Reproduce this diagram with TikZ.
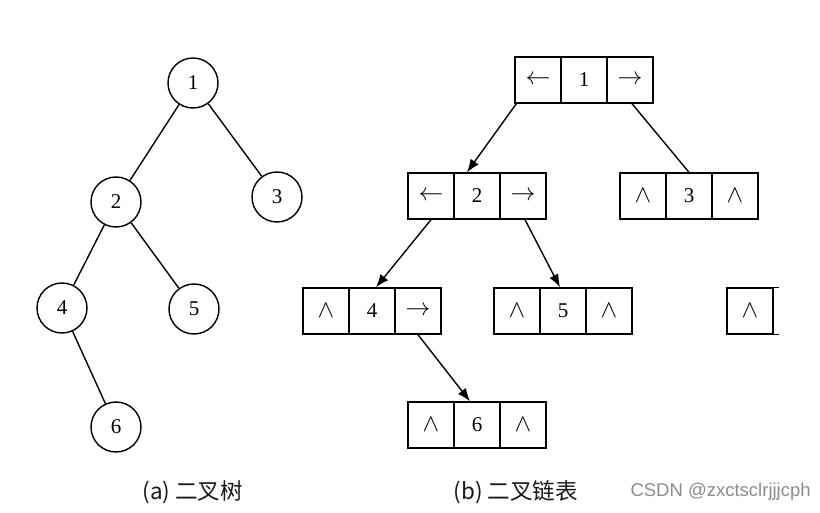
\documentclass[tikz,border=0pt]{standalone}
\usepackage{fontspec}
\setmainfont{Liberation Serif}
\newfontfamily\cjk{Noto Sans CJK SC}
\newfontfamily\wmfont{Liberation Sans}
\usetikzlibrary{arrows.meta,calc}
\newcommand{\nul}{{\fontsize{26}{26}\selectfont$\wedge$}}
\newcommand{\lar}{{\fontsize{24}{24}\selectfont$\leftarrow$}}
\newcommand{\rar}{{\fontsize{24}{24}\selectfont$\rightarrow$}}
\begin{document}
\begin{tikzpicture}[x=1pt,y=-1pt,
  treenode/.style={circle,draw,line width=1.4pt,minimum size=50pt,inner sep=0pt,font=\fontsize{21}{21}\selectfont},
  edge/.style={line width=1.4pt},
  cell/.style={rectangle,draw,line width=1.4pt,minimum width=46pt,minimum height=46pt,inner sep=0pt,font=\fontsize{21}{21}\selectfont},
  link/.style={line width=1.4pt,-{Latex[length=13pt,width=10pt]}},
  captext/.style={font=\cjk\fontsize{22.5}{22.5}\selectfont,text=black!90},
  wm/.style={font=\wmfont\fontsize{18.5}{18.5}\selectfont,text=black!45}]
\fill[white] (0,0) rectangle (820,513);
\useasboundingbox (0,0) rectangle (820,513);
% tree (a)
\node[treenode] (t1) at (193,83) {1};
\node[treenode] (t2) at (116,202) {2};
\node[treenode] (t3) at (277,197) {3};
\node[treenode] (t4) at (62,308) {4};
\node[treenode] (t5) at (194,309) {5};
\node[treenode] (t6) at (116,427) {6};
\draw[edge] (t1) -- (t2);
\draw[edge] (t1) -- (t3);
\draw[edge] (t2) -- (t4);
\draw[edge] (t2) -- (t5);
\draw[edge] (t4) -- (t6);
% linked list (b)
\node[cell] (b1l) at (538,80) {\lar};
\node[cell] (b1m) at (584,80) {1};
\node[cell] (b1r) at (630,80) {\rar};
\node[cell] (b2l) at (431,196) {\lar};
\node[cell] (b2m) at (477,196) {2};
\node[cell] (b2r) at (523,196) {\rar};
\node[cell] (b3l) at (643,196) {\nul};
\node[cell] (b3m) at (689,196) {3};
\node[cell] (b3r) at (735,196) {\nul};
\node[cell] (b4l) at (326,311) {\nul};
\node[cell] (b4m) at (372,311) {4};
\node[cell] (b4r) at (418,311) {\rar};
\node[cell] (b5l) at (517,311) {\nul};
\node[cell] (b5m) at (563,311) {5};
\node[cell] (b5r) at (609,311) {\nul};
\node[cell] (pc) at (750,311) {\nul};
\draw[line width=1.4pt] (pc.north east) -- ([xshift=5pt]pc.north east);
\draw[line width=1.4pt] (pc.south east) -- ([xshift=5pt]pc.south east);
\node[cell] (b6l) at (431,425) {\nul};
\node[cell] (b6m) at (477,425) {6};
\node[cell] (b6r) at (523,425) {\nul};
\draw[link] ([xshift=2pt]b1l.south west) -- ([xshift=-10pt]b2m.north);
\draw[edge] ([xshift=2pt]b1r.south) -- (b3m.north);
\draw[link] (b2l.south) -- ([xshift=4pt]b4m.north);
\draw[link] ([xshift=2pt]b2r.south) -- ([xshift=-3pt]b5m.north);
\draw[link] (b4r.south) -- ([xshift=-7pt]b6m.north);
% captions
\node[captext,anchor=west] (capa) at (139,492) {(a) 二叉树};
\node[captext,anchor=west] (capb) at (450,492) {(b) 二叉链表};
\node[wm,anchor=west] (wmk) at (627,492) {CSDN @zxctsclrjjjcph};
\end{tikzpicture}
\end{document}
